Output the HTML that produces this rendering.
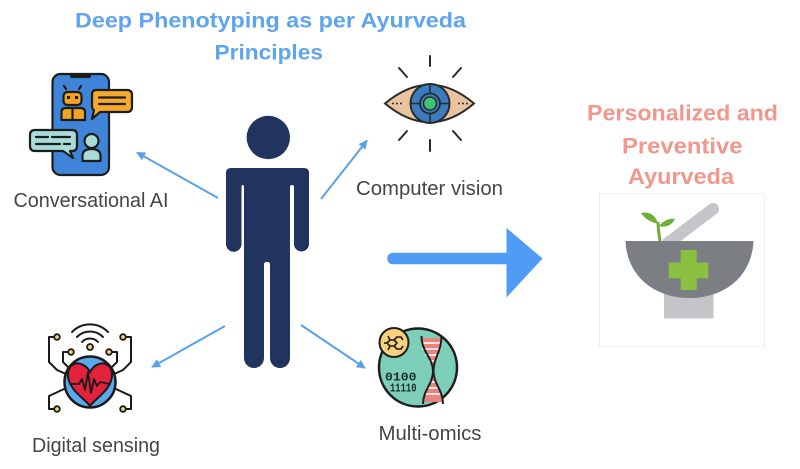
<!DOCTYPE html>
<html><head><meta charset="utf-8"><style>
html,body{margin:0;padding:0;background:#fff;}
svg{display:block;}
</style></head><body>
<svg width="800" height="469" viewBox="0 0 800 469" xmlns="http://www.w3.org/2000/svg">
<defs>
<marker id="ah" viewBox="0 0 10 10" refX="9" refY="5" markerWidth="9" markerHeight="9" markerUnits="userSpaceOnUse" orient="auto">
<path d="M0,0 L10,5 L0,10 Z" fill="#5ba1ea"/>
</marker>
</defs>
<rect width="800" height="469" fill="#fff"/>

<!-- Title -->
<g font-family="Liberation Sans, sans-serif" font-weight="bold" fill="#5ea4ee" font-size="21">
<text x="75" y="27.5" textLength="391" lengthAdjust="spacingAndGlyphs">Deep Phenotyping as per Ayurveda</text>
<text x="214.5" y="59.3" textLength="108.5" lengthAdjust="spacingAndGlyphs">Principles</text>
</g>

<!-- Right title -->
<g font-family="Liberation Sans, sans-serif" font-weight="bold" fill="#f1978c" font-size="22">
<text x="587" y="120.7" textLength="191" lengthAdjust="spacingAndGlyphs">Personalized and</text>
<text x="622" y="153.3" textLength="120.5" lengthAdjust="spacingAndGlyphs">Preventive</text>
<text x="628" y="184" textLength="106" lengthAdjust="spacingAndGlyphs">Ayurveda</text>
</g>

<!-- Person -->
<g fill="#21345f">
<circle cx="268.3" cy="137.5" r="21.7"/>
<path d="M226,173 Q226,168 231,168 H304 Q309,168 309,173 V244 A7.5,7.5 0 0 1 294,244 V187 Q294,185 292,185 Q290,185 290,187 V358 A10,10 0 0 1 270,358 V264 Q270,262 267,262 Q264,262 264,264 V358 A10,10 0 0 1 244,358 V187 Q244,185 242.5,185 Q241.5,185 241.5,187 V244 A7.75,7.75 0 0 1 226,244 Z"/>
</g>

<!-- Thin arrows -->
<g stroke="#5ba1ea" stroke-width="2" fill="none">
<line x1="218" y1="198" x2="137" y2="152.5" marker-end="url(#ah)"/>
<line x1="321" y1="199" x2="367" y2="140.5" marker-end="url(#ah)"/>
<line x1="225" y1="326" x2="152" y2="367" marker-end="url(#ah)"/>
<line x1="301" y1="325" x2="365" y2="368" marker-end="url(#ah)"/>
</g>

<!-- Big arrow -->
<line x1="393" y1="258.5" x2="510" y2="258.5" stroke="#4f9cf5" stroke-width="11.5" stroke-linecap="round"/>
<path d="M506.5,228 L542.5,258.5 L506.5,297.5 Z" fill="#4f9cf5"/>

<!-- Labels -->
<g font-family="Liberation Sans, sans-serif" font-size="20" fill="#454545">
<text x="13.5" y="207" textLength="155" lengthAdjust="spacingAndGlyphs">Conversational AI</text>
<text x="356" y="195" textLength="147" lengthAdjust="spacingAndGlyphs">Computer vision</text>
<text x="32" y="452" textLength="128" lengthAdjust="spacingAndGlyphs">Digital sensing</text>
<text x="378.5" y="440" textLength="103" lengthAdjust="spacingAndGlyphs">Multi-omics</text>
</g>

<!-- Conversational AI icon -->
<g stroke="#1d1d1d" stroke-width="2.2" stroke-linejoin="round" stroke-linecap="round">
<rect x="52.5" y="74" width="56.5" height="101" rx="8" fill="#3f84d8"/>
<rect x="70" y="73" width="21" height="5" rx="2" fill="#1d1d1d" stroke="none"/>
<line x1="66" y1="89" x2="64" y2="86" />
<line x1="79" y1="89" x2="81" y2="86" />
<rect x="63.5" y="92" width="18" height="13" rx="4" fill="#f2a31f"/>
<rect x="67" y="96" width="3" height="3" fill="#1d1d1d" stroke="none"/>
<rect x="75" y="96" width="3" height="3" fill="#1d1d1d" stroke="none"/>
<path d="M61.5,120 V112 Q61.5,108 66,108 H80 Q85,108 85,112 V120 Z" fill="#f2a31f"/>
<line x1="72.5" y1="108" x2="72.5" y2="120"/>
<path d="M96,90 H127 Q132,90 132,95 V107 Q132,112 127,112 H100 L92,119 L94,110 Q92,109 92,106 V95 Q92,90 96,90 Z" fill="#f6a92a"/>
<line x1="99" y1="97.5" x2="125" y2="97.5"/>
<line x1="99" y1="104" x2="125" y2="104"/>
<path d="M35,130 H72 Q77,130 77,135 V146 Q77,151 72,151 H70 L73,158 L63,151 H35 Q30,151 30,146 V135 Q30,130 35,130 Z" fill="#a9dcd9"/>
<line x1="36" y1="137" x2="48" y2="137"/>
<line x1="52" y1="137" x2="70" y2="137"/>
<line x1="36" y1="144" x2="60" y2="144"/>
<line x1="64" y1="144" x2="70" y2="144"/>
<circle cx="91.5" cy="141" r="7" fill="#a9dcd9"/>
<path d="M82.5,161 V156 Q82.5,149 91.5,149 Q100.5,149 100.5,156 V161 Z" fill="#a9dcd9"/>
</g>

<!-- Eye icon -->
<g stroke="#2a2a2a" stroke-width="2" stroke-linecap="round">
<line x1="430" y1="56" x2="430" y2="66"/>
<line x1="399" y1="68" x2="407" y2="77"/>
<line x1="461" y1="68" x2="453" y2="77"/>
<line x1="430" y1="140" x2="430" y2="151"/>
<line x1="399" y1="140" x2="407" y2="131"/>
<line x1="461" y1="140" x2="453" y2="131"/>
<path d="M385,103.5 Q430,66 474,103.5 Q430,141 385,103.5 Z" fill="#e9c49f"/>
<circle cx="430" cy="103.5" r="19.5" fill="#3b7cc0"/>
<line x1="430" y1="84" x2="430" y2="123" stroke-width="1.6"/>
<line x1="410.5" y1="103.5" x2="449.5" y2="103.5" stroke-width="1.6"/>
<circle cx="430" cy="103.5" r="10" fill="#3b7cc0" stroke-width="1.8"/>
<circle cx="430" cy="103.5" r="6.5" fill="#3ec46d" stroke-width="1.5"/>
</g>
<g fill="#2a2a2a">
<circle cx="393" cy="103.5" r="1"/><circle cx="397" cy="103.5" r="1"/><circle cx="401" cy="103.5" r="1"/>
<circle cx="459" cy="103.5" r="1"/><circle cx="463" cy="103.5" r="1"/><circle cx="467" cy="103.5" r="1"/>
</g>

<!-- Digital sensing icon -->
<g stroke="#1a1a1a" stroke-width="2" fill="none" stroke-linejoin="round" stroke-linecap="round">
<polyline points="57,337 49,337 49,362 57,370 66,374"/>
<polyline points="71,352 63,352 63,362 69,368"/>
<polyline points="64,389 49,396 49,409 57,409"/>
<polyline points="123,337 131,337 131,362 123,370 114,374"/>
<polyline points="109,352 117,352 117,362 111,368"/>
<polyline points="116,389 131,396 131,409 123,409"/>
<path d="M82,342 A11,11 0 0 1 98,342"/>
<path d="M77,337 A18,18 0 0 1 103,337"/>
<path d="M72,332 A25,25 0 0 1 108,332"/>
</g>
<g stroke="#1a1a1a" stroke-width="1.8" fill="#f3d27a">
<circle cx="57" cy="337" r="2.8"/><circle cx="71" cy="352" r="2.8"/><circle cx="57" cy="409" r="2.8"/>
<circle cx="123" cy="337" r="2.8"/><circle cx="109" cy="352" r="2.8"/><circle cx="123" cy="409" r="2.8"/>
<circle cx="90" cy="347" r="3"/>
</g>
<circle cx="90" cy="382" r="25.5" fill="#5aa9ec" stroke="#1a1a1a" stroke-width="2.5"/>
<path d="M90,372 C83,359 67,361 68,376 C69,390 84,398 90,406 C96,398 111,390 112,376 C113,361 97,359 90,372 Z" fill="#e2213b" stroke="#1a1a1a" stroke-width="2"/>
<polyline points="70,384 79,384 82,379 85,390 88,372 91,393 94,379 97,386 100,382 110,384" fill="none" stroke="#1a1a1a" stroke-width="1.8" stroke-linejoin="round"/>

<!-- Multi-omics icon -->
<circle cx="418" cy="367.5" r="39" fill="#7ecfba" stroke="#1e1e1e" stroke-width="2.5"/>
<path d="M421.5,338 C421.5,352 433,358 433,371 C433,384 423,390 423,402 L443,402 C443,390 433.5,384 433.5,371 C433.5,358 441.5,352 441.5,338 Z" fill="#e9857e"/>
<g stroke="#fff" stroke-width="1.6">
<line x1="421" y1="343" x2="442" y2="343"/>
<line x1="422" y1="349" x2="441" y2="349"/>
<line x1="425" y1="355" x2="439" y2="355"/>
<line x1="429" y1="361" x2="436" y2="361"/>
<line x1="429" y1="382" x2="437" y2="382"/>
<line x1="426" y1="388" x2="440" y2="388"/>
<line x1="424" y1="394" x2="442" y2="394"/>
</g>
<g stroke="#1e1e1e" stroke-width="2" fill="none">
<path d="M421.5,336 C421.5,352 433,358 433,371 C433,384 423,390 423,404"/>
<path d="M441.5,336 C441.5,352 433.5,358 433.5,371 C433.5,384 443,390 443,404"/>
</g>
<circle cx="394" cy="342.5" r="14.5" fill="#f6d07c" stroke="#1e1e1e" stroke-width="2"/>
<g stroke="#1e1e1e" stroke-width="1.6" fill="none" stroke-linejoin="round">
<path d="M387,343 l3,-3 h4 l3,3 l-3,3 h-4 z"/>
<path d="M394,340 l3,-3 h4 l2,3"/>
<path d="M394,346 l3,3 h4 l2,-3"/>
<line x1="387" y1="343" x2="384" y2="343"/>
<line x1="390" y1="340" x2="388" y2="336"/>
<line x1="390" y1="346" x2="388" y2="350"/>
</g>
<g font-family="Liberation Mono, monospace" font-weight="bold" font-size="12" fill="#1b2b2b">
<text x="385" y="380.5" textLength="31.5" lengthAdjust="spacingAndGlyphs">0100</text>
<text x="390" y="391.5" textLength="26.5" lengthAdjust="spacingAndGlyphs">11110</text>
</g>

<!-- Mortar box -->
<rect x="599.5" y="193.5" width="165" height="153" fill="#fff" stroke="#efefef" stroke-width="1"/>
<line x1="668" y1="243" x2="713" y2="209" stroke="#c3c5c8" stroke-width="12" stroke-linecap="round"/>
<path d="M660,241 C659,234 658,228 658,222" stroke="#6fae3a" stroke-width="3" fill="none"/>
<path d="M658,224 C650,222 644,218 641,213 C649,211 656,215 658,224 Z" fill="#6fae3a"/>
<path d="M659,226 C664,220 670,218 675,219 C672,225 666,228 659,226 Z" fill="#6fae3a"/>
<rect x="664" y="290" width="49.5" height="28.5" fill="#c3c5c8"/>
<path d="M625.5,241 H753.5 C752,276 725,298 689.5,298 C654,298 627,276 625.5,241 Z" fill="#7b7f83"/>
<rect x="680.7" y="250" width="16" height="40" fill="#8cc043"/>
<rect x="668.7" y="262.7" width="39.6" height="15.6" fill="#8cc043"/>
</svg>
</body></html>
